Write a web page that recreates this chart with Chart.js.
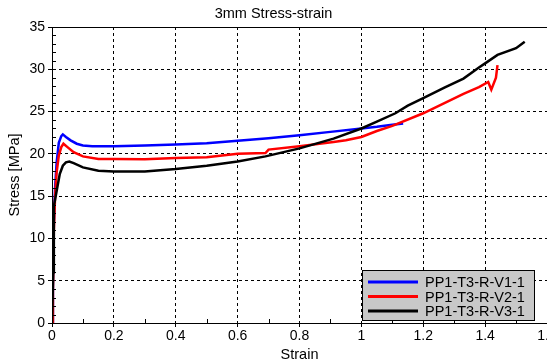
<!DOCTYPE html>
<html>
<head>
  <title>3mm Stress-strain</title>
  <script src="https://cdn.jsdelivr.net/npm/chart.js"></script>
  <style>
    body { margin: 0; background: #fff; }
    #wrap { width: 547px; height: 364px; }
  </style>
</head>
<body>
  <div id="wrap"><canvas id="ssChart" width="547" height="364"></canvas></div>

  <script>
    const seriesNames = ["PP1-T3-R-V1-1", "PP1-T3-R-V2-1", "PP1-T3-R-V3-1"];
    const seriesColors = ["#0000ff", "#ff0000", "#000000"];

    const blueStrain = [0, 0.003, 0.006, 0.01, 0.015, 0.022, 0.03, 0.035, 0.045, 0.06, 0.08, 0.1, 0.13, 0.17, 0.2, 0.3, 0.4, 0.5, 0.6, 0.7, 0.8, 0.9, 1.0, 1.05, 1.1, 1.135];
    const blueStress = [0, 5, 12, 16, 19, 21.3, 22.1, 22.3, 22.0, 21.6, 21.2, 21.0, 20.9, 20.9, 20.9, 21.0, 21.1, 21.25, 21.55, 21.85, 22.2, 22.6, 23.0, 23.2, 23.45, 23.6];

    const redStrain = [0, 0.003, 0.006, 0.01, 0.015, 0.022, 0.03, 0.037, 0.05, 0.07, 0.1, 0.15, 0.2, 0.3, 0.4, 0.5, 0.6, 0.69, 0.7, 0.8, 0.91, 0.95, 1.0, 1.05, 1.1, 1.2, 1.33, 1.38, 1.41, 1.42, 1.435, 1.44];
    const redStress = [0, 4, 11, 15, 17.8, 19.8, 20.8, 21.2, 20.8, 20.2, 19.7, 19.4, 19.4, 19.35, 19.5, 19.6, 20.0, 20.1, 20.5, 20.9, 21.4, 21.6, 22.0, 22.7, 23.3, 24.8, 27.1, 27.9, 28.5, 27.6, 29.0, 30.5];

    const blackStrain = [0, 0.004, 0.006, 0.01, 0.018, 0.025, 0.035, 0.045, 0.056, 0.07, 0.1, 0.15, 0.2, 0.3, 0.4, 0.5, 0.6, 0.69, 0.8, 0.91, 1.0, 1.05, 1.11, 1.15, 1.2, 1.27, 1.33, 1.38, 1.4, 1.44, 1.5, 1.528];
    const blackStress = [0, 6, 13.8, 14.6, 16.2, 17.6, 18.6, 19.0, 19.1, 18.9, 18.4, 18.0, 17.9, 17.9, 18.2, 18.6, 19.1, 19.7, 20.65, 21.8, 23.0, 23.8, 24.8, 25.7, 26.6, 27.85, 28.9, 30.2, 30.7, 31.7, 32.5, 33.25];

    const xTicks = [0, 0.2, 0.4, 0.6, 0.8, 1, 1.2, 1.4, 1.6];
    const yTicks = [0, 5, 10, 15, 20, 25, 30, 35];

    const toPoints = (xs, ys) => xs.map((x, i) => ({ x: x, y: ys[i] }));
    const allStrain = [blueStrain, redStrain, blackStrain];
    const allStress = [blueStress, redStress, blackStress];

    // frame, minor ticks and the boxed legend
    const framePlugin = {
      id: 'frame',
      afterDraw(chart) {
        const ctx = chart.ctx;
        const a = chart.chartArea;
        const xs = chart.scales.x, ys = chart.scales.y;
        ctx.save();
        ctx.strokeStyle = '#000';
        ctx.lineWidth = 1;
        ctx.strokeRect(Math.round(a.left) + 0.5, Math.round(a.top) + 0.5,
          Math.round(a.right - a.left), Math.round(a.bottom - a.top));
        ctx.beginPath();
        for (let v = 1; v < 35; v++) {
          if (v % 5 === 0) continue;
          const py = Math.round(ys.getPixelForValue(v)) + 0.5;
          ctx.moveTo(a.left, py); ctx.lineTo(a.left + 4, py);
        }
        for (let v = 0.1; v < 1.6; v += 0.2) {
          const px = Math.round(xs.getPixelForValue(v)) + 0.5;
          ctx.moveTo(px, a.bottom); ctx.lineTo(px, a.bottom - 4);
        }
        ctx.stroke();

        // legend box
        const bx = 362, by = 270, bw = 172, bh = 50;
        ctx.fillStyle = '#c8c8c8';
        ctx.fillRect(bx, by, bw, bh);
        ctx.strokeRect(bx + 0.5, by + 0.5, bw, bh);
        ctx.font = '14.5px Arial, "Liberation Sans", sans-serif';
        ctx.textBaseline = 'middle';
        ctx.textAlign = 'left';
        chart.data.datasets.forEach((ds, i) => {
          const ry = by + 12 + i * 14.5;
          ctx.strokeStyle = ds.borderColor;
          ctx.lineWidth = 3;
          ctx.beginPath();
          ctx.moveTo(bx + 6, ry); ctx.lineTo(bx + 56, ry);
          ctx.stroke();
          ctx.fillStyle = '#000';
          ctx.fillText(ds.label, bx + 63, ry + 1);
        });
        ctx.restore();
      }
    };

    new Chart(document.getElementById('ssChart'), {
      type: 'scatter',
      data: {
        datasets: seriesNames.map((name, i) => ({
          label: name,
          data: toPoints(allStrain[i], allStress[i]),
          borderColor: seriesColors[i],
          backgroundColor: seriesColors[i],
          showLine: true,
          borderWidth: 2.5,
          pointRadius: 0,
          tension: 0,
          order: 2 - i
        }))
      },
      options: {
        responsive: false,
        animation: false,
        events: [],
        layout: { padding: 0 },
        plugins: {
          legend: { display: false },
          tooltip: { enabled: false },
          title: {
            display: true,
            text: '3mm Stress-strain',
            color: '#000',
            font: { family: 'Arial', size: 14.5, weight: 'normal', lineHeight: 1.2 },
            padding: { top: 5, bottom: 4.6 }
          }
        },
        scales: {
          x: {
            type: 'linear',
            min: 0, max: 1.6,
            afterBuildTicks: s => { s.ticks = xTicks.map(v => ({ value: v })); },
            afterFit: s => { s.height = 41; s.paddingRight = 0; s.paddingLeft = 0; },
            ticks: {
              color: '#000', padding: 1, maxRotation: 0,
              font: { family: 'Arial', size: 14 },
              callback: v => String(v)
            },
            grid: { color: '#000', lineWidth: 1, tickLength: 4, tickColor: '#000' },
            border: { color: '#000', width: 1, dash: [3, 3] },
            title: {
              display: true, text: 'Strain', color: '#000',
              font: { family: 'Arial', size: 14.5 }, padding: { top: 0, bottom: 0 }
            }
          },
          y: {
            type: 'linear',
            min: 0, max: 35,
            afterBuildTicks: s => { s.ticks = yTicks.map(v => ({ value: v })); },
            afterFit: s => { s.width = 52; },
            ticks: {
              color: '#000', padding: 3,
              font: { family: 'Arial', size: 14 }
            },
            grid: { color: '#000', lineWidth: 1, tickLength: 4, tickColor: '#000' },
            border: { color: '#000', width: 1, dash: [3, 3] },
            title: {
              display: true, text: 'Stress [MPa]', color: '#000',
              font: { family: 'Arial', size: 14.5 }, padding: { top: 6, bottom: 2 }
            }
          }
        }
      },
      plugins: [framePlugin]
    });
  </script>
</body>
</html>
